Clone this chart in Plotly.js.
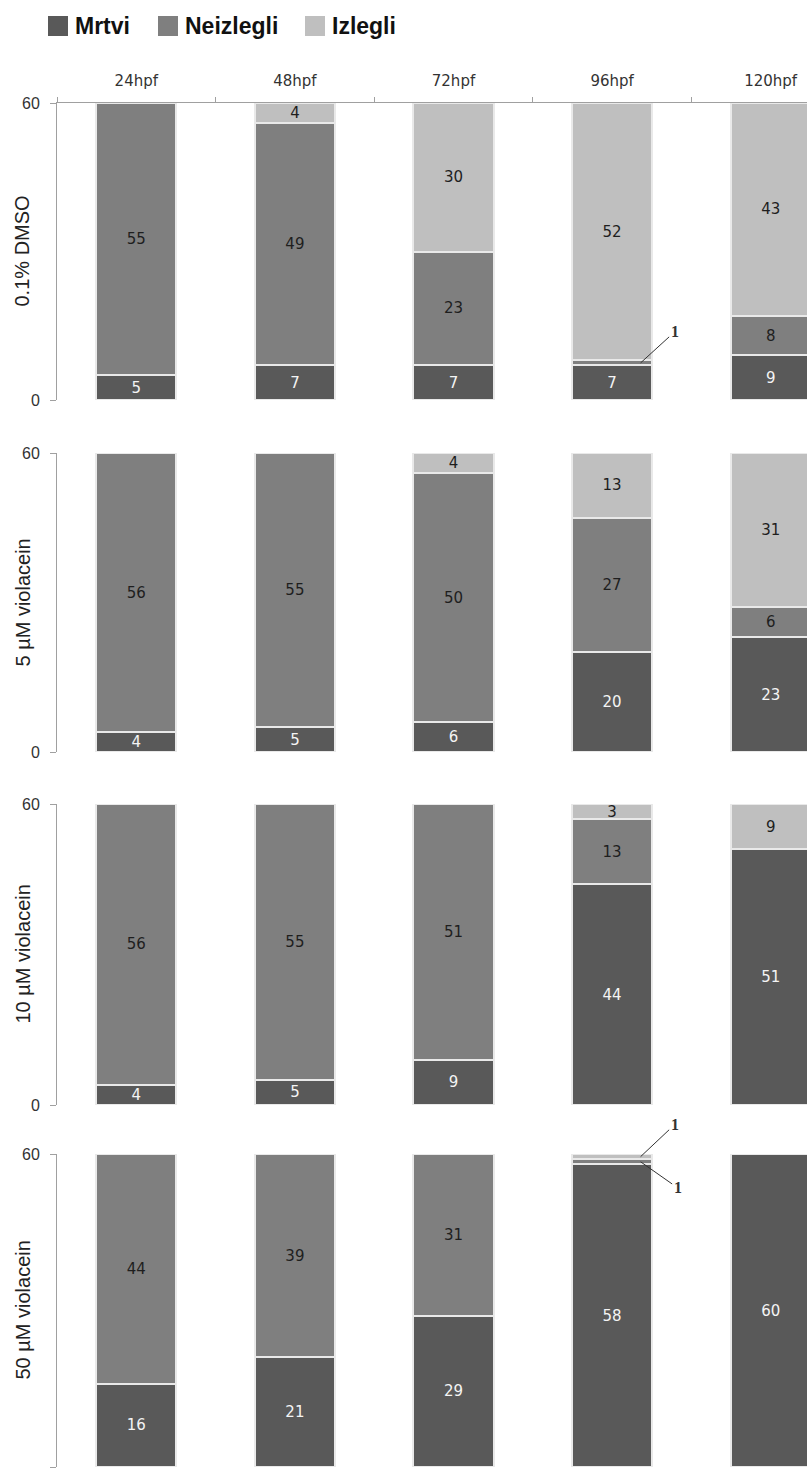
<!DOCTYPE html>
<html>
<head>
<meta charset="utf-8">
<script src="https://cdn.plot.ly/plotly-3.0.1.min.js"></script>
<style>html,body{margin:0;padding:0;background:#fff;overflow:hidden}</style>
</head>
<body>
<div id="chart" style="width:807px;height:1470px"></div>
<script>
// ---- data ----
const categories = ['24hpf', '48hpf', '72hpf', '96hpf', '120hpf'];
const groups = ['0.1% DMSO', '5 µM violacein', '10 µM violacein', '50 µM violacein'];
const seriesNames = ['Mrtvi', 'Neizlegli', 'Izlegli'];

const mrtvi_dmso = [5, 7, 7, 7, 9];
const neizlegli_dmso = [55, 49, 23, 1, 8];
const izlegli_dmso = [0, 4, 30, 52, 43];

const mrtvi_v5 = [4, 5, 6, 20, 23];
const neizlegli_v5 = [56, 55, 50, 27, 6];
const izlegli_v5 = [0, 0, 4, 13, 31];

const mrtvi_v10 = [4, 5, 9, 44, 51];
const neizlegli_v10 = [56, 55, 51, 13, 0];
const izlegli_v10 = [0, 0, 0, 3, 9];

const mrtvi_v50 = [16, 21, 29, 58, 60];
const neizlegli_v50 = [44, 39, 31, 1, 0];
const izlegli_v50 = [0, 0, 0, 1, 0];

// ---- styling ----
const W = 807, H = 1470, L = 57;
const PW = W - L;
const px2x = p => (p - L) / PW;
const px2y = p => (H - p) / H;

const colors = ['#595959', '#7f7f7f', '#bfbfbf'];
const textColors = ['#f4f4f4', '#1e1e1e', '#1e1e1e'];
const domains = [
  [px2y(400), px2y(103)],
  [px2y(752), px2y(453)],
  [px2y(1105), px2y(804)],
  [px2y(1467), px2y(1154)]
];
const rows = [
  [mrtvi_dmso, neizlegli_dmso, izlegli_dmso],
  [mrtvi_v5, neizlegli_v5, izlegli_v5],
  [mrtvi_v10, neizlegli_v10, izlegli_v10],
  [mrtvi_v50, neizlegli_v50, izlegli_v50]
];

const traces = [];
rows.forEach((row, r) => {
  row.forEach((vals, s) => {
    traces.push({
      type: 'bar',
      name: seriesNames[s],
      showlegend: false,
      x: categories,
      y: vals,
      xaxis: 'x',
      yaxis: r === 0 ? 'y' : 'y' + (r + 1),
      marker: {color: colors[s], line: {color: '#e9e9e9', width: 2}},
      text: vals.map(v => v > 1 ? String(v) : ''),
      textposition: 'inside',
      insidetextanchor: 'middle',
      textangle: 0,
      constraintext: 'none',
      textfont: {family: 'DejaVu Sans, Verdana, sans-serif', size: 15, color: textColors[s]},
      hoverinfo: 'skip'
    });
  });
});

const layout = {
  width: W,
  height: H,
  margin: {l: L, r: 0, t: 0, b: 0},
  paper_bgcolor: '#ffffff',
  plot_bgcolor: '#ffffff',
  barmode: 'stack',
  bargap: 0.495,
  showlegend: false,
  xaxis: {
    type: 'category',
    categoryarray: categories,
    range: [-0.5, 4.229],
    side: 'top',
    anchor: 'y',
    tickson: 'boundaries',
    ticks: 'outside',
    ticklen: 5,
    tickcolor: '#a0a0a0',
    ticklabelstandoff: 10,
    showline: true,
    linecolor: '#a0a0a0',
    linewidth: 1,
    showgrid: false,
    zeroline: false,
    tickfont: {family: 'DejaVu Sans, Verdana, sans-serif', size: 15, color: '#333'},
    fixedrange: true
  },
  annotations: [],
  shapes: [],
  font: {family: 'Liberation Sans, Arial, sans-serif'}
};

domains.forEach((d, i) => {
  const key = i === 0 ? 'yaxis' : 'yaxis' + (i + 1);
  layout[key] = {
    domain: d,
    anchor: 'x',
    range: [0, 60],
    tickvals: [0, 60],
    ticks: 'outside',
    ticklen: 6,
    tickcolor: '#a0a0a0',
    ticklabelstandoff: 7,
    showline: true,
    linecolor: '#a0a0a0',
    linewidth: 1,
    showgrid: false,
    zeroline: false,
    tickfont: {family: 'Liberation Sans, Arial, sans-serif', size: 16, color: '#333'},
    fixedrange: true
  };
  layout.annotations.push({
    xref: 'paper', yref: 'paper',
    x: px2x(22), y: (d[0] + d[1]) / 2,
    text: groups[i], textangle: -90, showarrow: false,
    xanchor: 'center', yanchor: 'middle',
    font: {family: 'Liberation Sans, Arial, sans-serif', size: 20, color: '#222'}
  });
});

// legend (swatches + labels)
const legendSwatchX = [48, 158, 305];
seriesNames.forEach((name, s) => {
  const x0 = legendSwatchX[s];
  layout.shapes.push({
    type: 'rect', xref: 'paper', yref: 'paper',
    x0: px2x(x0), x1: px2x(x0 + 20), y0: px2y(36), y1: px2y(16),
    fillcolor: colors[s], line: {width: 0}
  });
  layout.annotations.push({
    xref: 'paper', yref: 'paper',
    x: px2x(x0 + 25), y: px2y(26),
    text: '<b>' + name + '</b>', showarrow: false,
    xanchor: 'left', yanchor: 'middle',
    font: {family: 'Liberation Sans, Arial, sans-serif', size: 23, color: '#111'}
  });
});

// callouts for the thin "1" segments
const calloutFont = {family: 'Liberation Serif, DejaVu Serif, serif', size: 16, color: '#333', weight: 'bold'};
function callout(yref, yVal, ax, ay) {
  layout.annotations.push({
    xref: 'x', yref: yref, x: 3.18, y: yVal,
    text: '1', showarrow: true, arrowhead: 0, arrowwidth: 1, arrowcolor: '#333',
    ax: ax, ay: ay, standoff: 0, font: calloutFont
  });
}
callout('y', mrtvi_dmso[3] + neizlegli_dmso[3] / 2, 34, -31);
callout('y4', mrtvi_v50[3] + neizlegli_v50[3] + izlegli_v50[3] / 2, 34, -32);
callout('y4', mrtvi_v50[3] + neizlegli_v50[3] / 2, 37, 26);

Plotly.newPlot('chart', traces, layout, {displayModeBar: false, staticPlot: true});
</script>
</body>
</html>
